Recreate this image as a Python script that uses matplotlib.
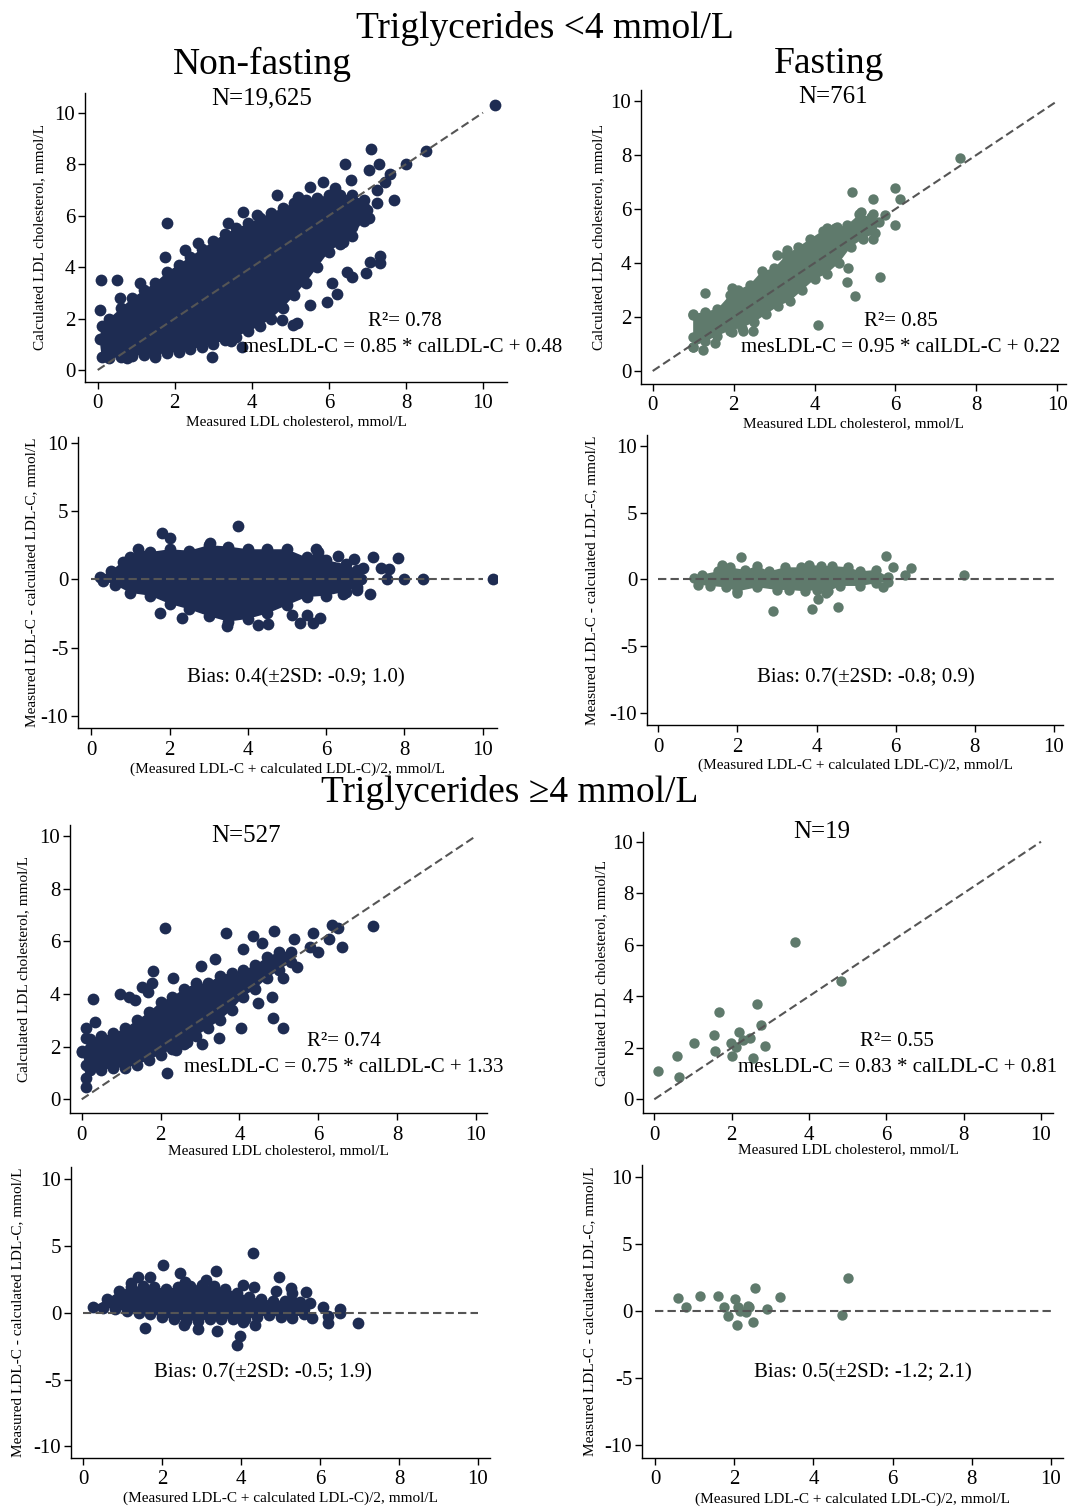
import matplotlib
matplotlib.use("Agg")
import matplotlib.pyplot as plt

plt.rcParams['font.family'] = ['Liberation Serif', 'DejaVu Serif']
plt.rcParams['axes.unicode_minus'] = False

navy = '#1e2c52'
green = '#5f7a6c'

# --- TG < 4, non-fasting: measured vs calculated (dense core outline + stray points)
p1_core_x = [0.1, 0.3, 0.6, 0.9, 1.2, 1.5, 1.8, 2.1, 2.4, 2.7, 3.0, 3.3, 3.6, 3.9, 4.2, 4.5, 4.8, 5.1, 5.4, 5.7, 6.0, 6.3, 6.6, 6.9,
             7.0, 6.9, 6.6,
             6.3, 6.0, 5.7, 5.4, 5.1, 4.8, 4.5, 4.2, 3.9, 3.6, 3.3, 3.0, 2.7, 2.4, 2.1, 1.8, 1.5, 1.2, 0.9, 0.6, 0.3, 0.1, 0.05]
p1_core_y = [1.7, 2.0, 2.4, 2.8, 3.1, 3.4, 3.8, 4.1, 4.4, 4.7, 5.0, 5.3, 5.5, 5.7, 5.9, 6.1, 6.3, 6.5, 6.6, 6.7, 6.8, 6.8, 6.8, 6.6,
             6.2, 5.8, 5.2,
             4.9, 4.6, 4.0, 3.4, 2.9, 2.4, 2.0, 1.7, 1.5, 1.3, 1.15, 1.0, 0.9, 0.8, 0.7, 0.65, 0.6, 0.58, 0.55, 0.5, 0.45, 0.5, 1.2]
p1_pts_x = [10.3, 8.52, 8.0, 7.1, 6.42, 7.29, 7.03, 7.59, 7.45, 6.57, 7.7, 7.25, 7.25, 7.05, 6.9, 5.5, 5.86, 5.2, 4.65,
            1.79, 2.96, 1.49, 0.75, 3.45, 3.75, 7.32, 7.32, 7.07, 6.97, 6.6, 6.47, 6.21, 5.95, 6.08, 5.52, 5.17, 4.78,
            5.08, 6.36, 6.6, 0.06, 0.09, 0.51, 0.58, 1.1, 1.75, 2.27, 2.6, 3.39, 3.78, 4.13, 6.16]
p1_pts_y = [10.3, 8.51, 8.0, 8.6, 8.0, 8.0, 7.77, 7.62, 7.32, 7.38, 6.6, 7.0, 6.5, 5.92, 6.35, 7.12, 7.32, 6.74, 6.8,
            5.7, 0.52, 0.52, 0.45, 1.14, 0.91, 4.44, 4.15, 4.21, 3.76, 3.6, 3.82, 2.94, 2.65, 3.4, 2.53, 1.81, 1.94,
            1.75, 4.99, 5.57, 2.33, 3.5, 3.5, 2.79, 3.37, 4.4, 4.66, 4.92, 5.7, 6.15, 6.02, 7.06]

# --- TG < 4, fasting
p2_core_x = [1.0, 1.3, 1.6, 1.9, 2.1, 2.4, 2.7, 3.0, 3.3, 3.6, 3.9, 4.2, 4.5, 4.8, 5.1, 5.4, 5.6,
             5.5, 5.2, 4.9, 4.6, 4.3, 4.0, 3.7, 3.4, 3.1, 2.8, 2.5, 2.2, 1.9, 1.6, 1.3, 1.0]
p2_core_y = [2.1, 2.2, 2.3, 2.8, 3.0, 3.2, 3.7, 3.8, 4.3, 4.6, 4.9, 5.2, 5.3, 5.4, 5.8, 5.7, 5.5,
             5.1, 4.9, 4.6, 4.0, 3.6, 3.4, 3.0, 2.6, 2.4, 2.1, 1.8, 1.6, 1.5, 1.3, 1.1, 0.9]
p2_pts_x = [7.6, 5.99, 6.1, 5.45, 4.92, 5.74, 5.44, 5.99, 5.44, 5.62, 5.0, 4.79, 4.83, 4.09, 1.29, 1.24, 0.99, 1.0,
            1.0, 1.54, 1.95, 2.49, 2.24, 3.31, 3.06, 1.95, 4.3, 4.55, 5.14]
p2_pts_y = [7.9, 6.79, 6.37, 6.37, 6.62, 5.78, 5.8, 5.41, 4.89, 3.49, 2.79, 3.28, 3.8, 1.7, 2.88, 0.78, 2.07, 0.9,
            1.27, 1.02, 1.46, 1.48, 1.48, 4.48, 4.3, 3.09, 5.28, 5.35, 5.88]

# --- TG < 4, non-fasting: Bland-Altman
p3_core_x = [0.22, 0.5, 0.8, 1.0, 1.2, 1.5, 2.0, 2.5, 3.0, 3.5, 4.0, 4.5, 5.0, 5.5, 5.8, 6.0, 6.5, 6.8, 6.9,
             6.8, 6.5, 6.0, 5.5, 5.0, 4.5, 4.0, 3.5, 3.0, 2.5, 2.0, 1.5, 1.0, 0.6, 0.3]
p3_core_y = [0.2, 0.6, 1.3, 1.6, 2.2, 2.0, 2.2, 2.1, 2.5, 2.4, 2.2, 2.2, 2.2, 1.6, 2.0, 1.4, 1.1, 0.7, 0.0,
             -0.6, -0.9, -1.2, -1.3, -1.9, -2.5, -2.9, -3.1, -2.7, -2.2, -1.8, -1.2, -1.0, -0.4, -0.1]
p3_pts_x = [3.74, 1.8, 2.0, 7.19, 7.83, 7.39, 7.6, 6.95, 7.99, 8.48, 10.27, 7.55, 7.12, 6.8, 6.44, 1.75, 2.33, 5.33,
            5.67, 5.84, 5.5, 5.12, 4.27, 4.52, 3.46, 6.7, 6.31, 5.93, 5.74, 3.03]
p3_pts_y = [3.9, 3.37, 3.0, 1.61, 1.54, 0.8, 0.73, 0.8, 0.0, 0.0, 0.0, 0.0, -1.07, -0.78, -1.07, -2.44, -2.85, -3.2,
            -3.2, -2.85, -2.6, -2.6, -3.34, -3.27, -3.39, 1.46, 1.7, 1.41, 2.2, 2.63]

# --- TG < 4, fasting: Bland-Altman
p4_core_x = [0.9, 1.1, 1.5, 1.6, 1.8, 2.2, 2.5, 2.8, 3.2, 3.6, 3.8, 4.1, 4.4, 4.8, 5.1, 5.5, 5.8,
             5.8, 5.5, 5.1, 4.6, 4.3, 4.0, 3.7, 3.3, 3.0, 2.5, 2.0, 1.7, 1.3, 1.0]
p4_core_y = [0.1, 0.35, 0.6, 1.1, 0.9, 0.7, 1.0, 0.6, 0.9, 0.9, 1.1, 1.0, 1.0, 0.9, 0.6, 0.7, 0.2,
             -0.2, -0.3, -0.5, -0.5, -0.9, -0.8, -0.9, -0.8, -0.8, -0.6, -0.9, -0.6, -0.5, -0.4]
p4_pts_x = [2.1, 5.75, 5.92, 6.38, 6.23, 7.73, 2.89, 3.89, 4.55, 4.04, 5.67, 4.25, 1.98]
p4_pts_y = [1.64, 1.74, 0.95, 0.82, 0.32, 0.32, -2.41, -2.21, -2.11, -1.49, -0.55, -1.04, -1.04]

# --- TG >= 4, non-fasting
p5_core_x = [0.0, 0.2, 0.5, 0.8, 1.1, 1.4, 1.7, 2.0, 2.3, 2.6, 2.9, 3.2, 3.5, 3.8, 4.1, 4.4, 4.7, 5.0, 5.3,
             5.3, 5.0, 4.7, 4.4, 4.1, 3.8, 3.5, 3.2, 2.9, 2.6, 2.3, 2.0, 1.7, 1.4, 1.1, 0.8, 0.5, 0.2, 0.1]
p5_core_y = [1.8, 2.3, 2.4, 2.5, 2.7, 3.0, 3.3, 3.7, 3.9, 4.2, 4.4, 4.4, 4.7, 4.8, 4.9, 5.1, 5.4, 5.6, 5.6,
             5.2, 4.9, 4.6, 4.2, 3.9, 3.4, 3.0, 2.7, 2.4, 2.1, 1.9, 1.7, 1.5, 1.3, 1.2, 1.2, 1.1, 1.1, 1.3]
p5_pts_x = [2.1, 3.66, 4.88, 4.35, 4.56, 5.38, 5.86, 6.36, 6.51, 6.28, 7.38, 6.59, 6.0, 5.79, 5.47, 4.1, 3.38, 3.02,
            1.82, 1.78, 1.69, 2.31, 0.96, 1.2, 0.28, 0.34, 0.11, 0.11, 0.0, 0.11, 0.11, 2.16, 3.04, 3.49, 4.03, 4.86,
            5.1, 4.82, 4.48, 5.11, 2.38, 2.66, 1.35, 1.52]
p5_pts_y = [6.49, 6.3, 6.4, 6.2, 5.95, 6.09, 6.3, 6.62, 6.49, 6.09, 6.58, 5.8, 5.6, 5.8, 5.01, 5.7, 5.32, 5.08,
            4.89, 4.41, 4.09, 4.6, 4.0, 3.9, 3.8, 2.95, 2.7, 2.32, 1.84, 0.8, 0.48, 0.99, 2.1, 2.32, 2.7, 3.08,
            2.7, 3.9, 3.67, 4.6, 1.87, 2.19, 3.77, 4.28]

# --- TG >= 4, fasting (N=19)
p6_x = [0.1, 0.58, 0.65, 1.03, 1.55, 1.57, 1.68, 1.98, 2.0, 2.2, 2.11, 2.47, 2.56, 2.65, 2.76, 2.86, 3.64, 4.84, 2.3]
p6_y = [1.11, 1.68, 0.88, 2.2, 2.5, 1.89, 3.38, 2.2, 1.68, 2.6, 2.04, 2.37, 1.59, 3.69, 2.88, 2.07, 6.09, 4.59, 2.3]

# --- TG >= 4, non-fasting: Bland-Altman
p7_core_x = [0.25, 0.6, 0.9, 1.2, 1.5, 1.8, 2.1, 2.4, 2.7, 3.0, 3.3, 3.6, 3.9, 4.2, 4.5, 4.8, 5.1, 5.3, 5.5, 5.6,
             5.6, 5.3, 5.0, 4.7, 4.4, 4.1, 3.8, 3.5, 3.2, 2.9, 2.6, 2.3, 2.0, 1.7, 1.4, 1.1, 0.8, 0.5]
p7_core_y = [0.45, 1.0, 1.6, 1.9, 2.0, 1.9, 1.8, 1.9, 2.0, 2.1, 2.0, 1.8, 1.5, 1.2, 1.0, 0.9, 0.9, 1.5, 0.8, 0.3,
             -0.1, -0.4, -0.3, -0.2, -0.3, -0.5, -0.5, -0.5, -0.5, -0.6, -0.6, -0.5, -0.3, -0.1, 0.0, 0.1, 0.3, 0.35]
p7_pts_x = [4.29, 2.03, 2.45, 2.58, 3.36, 3.11, 4.97, 4.88, 4.05, 4.33, 5.26, 5.64, 5.74, 6.08, 6.5, 6.5, 5.79, 6.21,
            6.19, 6.97, 1.56, 2.91, 3.38, 3.97, 3.89, 4.35, 4.05, 2.55, 1.39, 1.69, 1.2]
p7_pts_y = [4.44, 3.57, 2.94, 2.32, 3.12, 2.44, 2.64, 1.62, 2.07, 1.95, 1.82, 1.52, 0.75, 0.45, 0.25, -0.05, -0.4, -0.25,
            -0.8, -0.75, -1.17, -1.25, -1.37, -1.75, -2.42, -0.92, -0.67, -0.92, 2.64, 2.69, 2.24]

# --- TG >= 4, fasting: Bland-Altman
p8_x = [0.59, 0.78, 1.14, 1.6, 1.73, 1.85, 2.02, 2.09, 2.08, 2.36, 2.29, 2.48, 2.38, 2.53, 2.84, 3.16, 4.71, 4.87, 2.15]
p8_y = [0.99, 0.27, 1.09, 1.14, 0.32, -0.35, 0.89, 0.27, -1.02, 0.37, -0.05, -0.79, 0.32, 1.71, 0.12, 1.02, -0.27, 2.43, 0.0]

ref_x = [0, 10]

xticks = [0, 2, 4, 6, 8, 10]
yticks_sc = [0, 2, 4, 6, 8, 10]
yticks_ba = [-10, -5, 0, 5, 10]

xlab_sc = 'Measured LDL cholesterol, mmol/L'
ylab_sc = 'Calculated LDL cholesterol, mmol/L'
xlab_ba = '(Measured LDL-C + calculated LDL-C)/2, mmol/L'
ylab_ba = 'Measured LDL-C - calculated LDL-C, mmol/L'

W, H = 1068, 1508
fig = plt.figure(figsize=(W / 100, H / 100), dpi=100)
MS = {navy: 72, green: 56}


def make_ax(L, R, T, B, x0, x10, y0, ytop, yval):
    ax = fig.add_axes([L / W, 1 - B / H, (R - L) / W, (B - T) / H])
    sx = (x10 - x0) / 10
    sy = (y0 - ytop) / yval
    ax.set_xlim((L - x0) / sx, (R - x0) / sx)
    ax.set_ylim(-(B - y0) / sy, (y0 - T) / sy)
    for s in ['top', 'right']:
        ax.spines[s].set_visible(False)
    for s in ['left', 'bottom']:
        ax.spines[s].set_linewidth(1.0)
    ax.tick_params(direction='out', length=5, width=1, labelsize=15)
    ax.tick_params(axis='x', pad=4)
    ax.tick_params(axis='y', pad=2)
    ax.set_xticks(xticks)
    return ax


def draw(ax, core_x, core_y, pts_x, pts_y, color):
    ms = MS[color]
    if core_x:
        ax.fill(core_x, core_y, color=color, lw=0, zorder=2)
        ax.scatter(core_x, core_y, s=ms, color=color, lw=0, zorder=2)
    ax.scatter(pts_x, pts_y, s=ms, color=color, lw=0, zorder=2)


def labels(ax, xl, yl, xlab_px, ylab_px, L, R, T, B):
    ax.set_xlabel(xl, fontsize=11, va='center')
    ax.set_ylabel(yl, fontsize=11, va='center')
    ax.xaxis.set_label_coords(0.5, (B - xlab_px) / (B - T))
    ax.yaxis.set_label_coords((ylab_px - L) / (R - L), 0.5)


panels = [
    (85, 507, 93, 382, 97.7, 483, 370, 112.7, 10, 'sc', p1_core_x, p1_core_y, p1_pts_x, p1_pts_y, navy, 422, 40),
    (641, 1066, 90, 384, 652.7, 1057.3, 371, 101, 10, 'sc', p2_core_x, p2_core_y, p2_pts_x, p2_pts_y, green, 424, 599),
    (78, 497, 437, 728, 91.3, 482.7, 579.3, 442.7, 10, 'ba', p3_core_x, p3_core_y, p3_pts_x, p3_pts_y, navy, 769, 32),
    (647, 1063, 435, 725, 658.3, 1054, 579.3, 446, 10, 'ba', p4_core_x, p4_core_y, p4_pts_x, p4_pts_y, green, 765, 592),
    (70, 487, 825, 1113, 81.7, 476, 1099.3, 836, 10, 'sc', p5_core_x, p5_core_y, p5_pts_x, p5_pts_y, navy, 1151, 24),
    (643, 1053, 832, 1113, 654.3, 1041, 1099.3, 841.7, 10, 'sc', [], [], p6_x, p6_y, green, 1150, 602),
    (71, 490, 1167, 1458, 83.3, 478, 1312.7, 1179, 10, 'ba', p7_core_x, p7_core_y, p7_pts_x, p7_pts_y, navy, 1498, 18),
    (642, 1063, 1165, 1458, 655, 1051, 1311, 1176.7, 10, 'ba', [], [], p8_x, p8_y, green, 1499, 590),
]

for (L, R, T, B, x0, x10, y0, ytop, yval, kind, cx, cy, px, py, col, xlp, ylp) in panels:
    ax = make_ax(L, R, T, B, x0, x10, y0, ytop, yval)
    draw(ax, cx, cy, px, py, col)
    if kind == 'sc':
        ax.set_yticks(yticks_sc)
        ax.plot(ref_x, ref_x, color='#555555', lw=1.5, dashes=(4, 2), zorder=3)
        labels(ax, xlab_sc, ylab_sc, xlp, ylp, L, R, T, B)
    else:
        ax.set_yticks(yticks_ba)
        ax.plot(ref_x, [0, 0], color='#555555', lw=1.5, dashes=(4, 2), zorder=3)
        labels(ax, xlab_ba, ylab_ba, xlp, ylp, L, R, T, B)


def ftext(x, y, s, size):
    fig.text(x / W, 1 - y / H, s, ha='center', va='center', fontsize=size)


ftext(545, 28, 'Triglycerides <4 mmol/L', 27)
ftext(262, 64, 'Non-fasting', 27)
ftext(829, 64, 'Fasting', 27)
ftext(262, 98, 'N=19,625', 18)
ftext(833, 97, 'N=761', 18)
ftext(510, 793, 'Triglycerides \u22654 mmol/L', 27)
ftext(246, 836, 'N=527', 18)
ftext(822, 832, 'N=19', 18)

ftext(405, 321, 'R\u00b2= 0.78', 15)
ftext(403, 347, 'mesLDL-C = 0.85 * calLDL-C + 0.48', 15)
ftext(901, 322, 'R\u00b2= 0.85', 15)
ftext(901, 347, 'mesLDL-C = 0.95 * calLDL-C + 0.22', 15)
ftext(296, 678, 'Bias: 0.4(\u00b12SD: -0.9; 1.0)', 15)
ftext(866, 678, 'Bias: 0.7(\u00b12SD: -0.8; 0.9)', 15)
ftext(344, 1041, 'R\u00b2= 0.74', 15)
ftext(344, 1067, 'mesLDL-C = 0.75 * calLDL-C + 1.33', 15)
ftext(897, 1041, 'R\u00b2= 0.55', 15)
ftext(898, 1067, 'mesLDL-C = 0.83 * calLDL-C + 0.81', 15)
ftext(263, 1373, 'Bias: 0.7(\u00b12SD: -0.5; 1.9)', 15)
ftext(863, 1373, 'Bias: 0.5(\u00b12SD: -1.2; 2.1)', 15)

fig.savefig('out.png', dpi=100)
